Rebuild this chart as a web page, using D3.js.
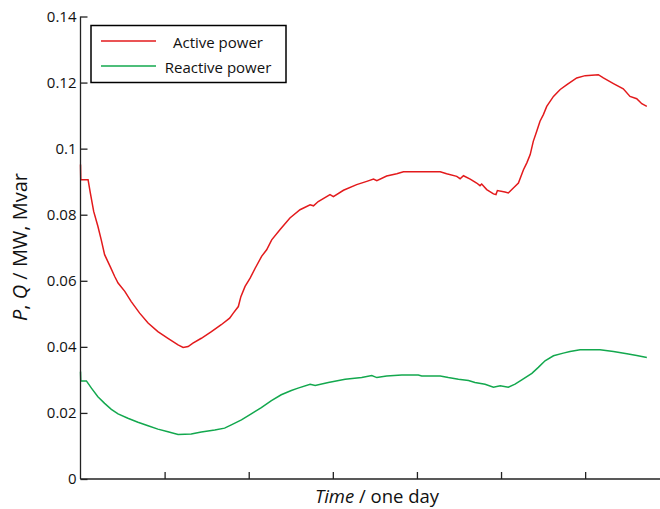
<!DOCTYPE html>
<html>
<head>
<meta charset="utf-8">
<script src="https://cdn.jsdelivr.net/npm/d3@7"></script>
<style>
  body { margin: 0; background: #fff; }
  text { font-family: 'Open Sans', sans-serif; fill: #111; }
</style>
</head>
<body>
<svg id="chart" width="660" height="509"></svg>
<script>
// time in hours (tick every 3 h), value in MW / Mvar
const activeTime = [0, 0.01, 0.27, 0.35, 0.47, 0.62, 0.74, 0.86, 1.06, 1.22, 1.34, 1.58, 1.81, 2.11, 2.41, 2.76, 3.12, 3.48, 3.66, 3.84, 4.01, 4.31, 4.67, 5.02, 5.32, 5.45, 5.63, 5.72, 5.87, 6.05, 6.23, 6.46, 6.64, 6.82, 7.12, 7.47, 7.83, 8.19, 8.31, 8.48, 8.9, 9.02, 9.38, 9.85, 10.21, 10.45, 10.57, 10.92, 11.28, 11.52, 12.83, 13.06, 13.42, 13.54, 13.66, 13.9, 14.13, 14.25, 14.31, 14.49, 14.73, 14.82, 14.87, 15.14, 15.26, 15.44, 15.62, 15.8, 15.92, 16.04, 16.15, 16.27, 16.39, 16.51, 16.63, 16.87, 17.11, 17.35, 17.7, 18.0, 18.47, 18.65, 19.01, 19.36, 19.6, 19.84, 20.02, 20.2]
const activePower = [0.0952, 0.0906, 0.0906, 0.0866, 0.081, 0.0765, 0.0724, 0.0679, 0.0643, 0.0613, 0.0593, 0.0568, 0.0537, 0.0502, 0.0472, 0.0446, 0.0426, 0.0406, 0.0398, 0.0401, 0.0411, 0.0426, 0.0446, 0.0467, 0.0487, 0.0502, 0.0522, 0.0552, 0.0583, 0.0608, 0.0638, 0.0674, 0.0694, 0.0724, 0.0755, 0.079, 0.0815, 0.083, 0.0827, 0.084, 0.0861, 0.0855, 0.0874, 0.0891, 0.0901, 0.0908, 0.0903, 0.0917, 0.0924, 0.093, 0.093, 0.0924, 0.0916, 0.0909, 0.0918, 0.0908, 0.0896, 0.0888, 0.0893, 0.0876, 0.0863, 0.0861, 0.0873, 0.0869, 0.0866, 0.0881, 0.0896, 0.0936, 0.0957, 0.0982, 0.1022, 0.1052, 0.1083, 0.1103, 0.1128, 0.1158, 0.1179, 0.1194, 0.1214, 0.1221, 0.1224, 0.1214, 0.1197, 0.1181, 0.1158, 0.1151, 0.1136, 0.1128]

const reactiveTime = [0, 0.01, 0.21, 0.39, 0.62, 0.86, 1.1, 1.34, 1.69, 2.05, 2.41, 2.76, 3.12, 3.48, 3.95, 4.31, 4.79, 5.14, 5.38, 5.74, 6.09, 6.45, 6.81, 7.16, 7.52, 7.76, 8.19, 8.37, 8.84, 9.44, 10.03, 10.39, 10.57, 10.92, 11.46, 12.05, 12.17, 12.83, 13.12, 13.48, 13.84, 14.07, 14.43, 14.73, 14.97, 15.26, 15.5, 15.74, 16.1, 16.33, 16.57, 16.87, 17.22, 17.46, 17.82, 18.53, 19.01, 19.49, 19.84, 20.2]
const reactivePower = [0.0325, 0.0297, 0.0297, 0.0275, 0.0249, 0.0229, 0.0211, 0.0197, 0.0184, 0.0172, 0.0161, 0.0151, 0.0143, 0.0135, 0.0136, 0.0142, 0.0148, 0.0154, 0.0164, 0.0179, 0.0197, 0.0216, 0.0237, 0.0255, 0.0268, 0.0275, 0.0287, 0.0283, 0.0292, 0.0302, 0.0307, 0.0313, 0.0307, 0.0312, 0.0315, 0.0315, 0.0312, 0.0312, 0.0307, 0.0302, 0.0298, 0.0292, 0.0287, 0.0278, 0.0282, 0.0278, 0.0287, 0.03, 0.032, 0.0338, 0.0358, 0.0373, 0.0381, 0.0386, 0.0391, 0.0391, 0.0386, 0.0379, 0.0374, 0.0368]

const xTicks = [3, 6, 9, 12, 15, 18]
const yTicks = [0, 0.02, 0.04, 0.06, 0.08, 0.1, 0.12, 0.14]
const seriesNames = ['Active power', 'Reactive power']
const seriesColors = ['#e31a1c', '#13a84e']

const svg = d3.select('#chart')
const margin = { left: 80.5, top: 16.5, bottom: 479, right: 660 }

const x = d3.scaleLinear().domain([0, 20.67]).range([margin.left, margin.right])
const y = d3.scaleLinear().domain([0, 0.14]).range([margin.bottom, margin.top])

const line = d3
  .line()
  .x((d) => x(d[0]))
  .y((d) => y(d[1]))

const series = [
  d3.zip(activeTime, activePower),
  d3.zip(reactiveTime, reactivePower),
]

svg
  .selectAll('path.series')
  .data(series)
  .join('path')
  .attr('class', 'series')
  .attr('d', line)
  .attr('fill', 'none')
  .attr('stroke', (_, i) => seriesColors[i])
  .attr('stroke-width', 1.5)

// y axis, ticks inside
const yAxis = svg
  .append('g')
  .attr('transform', `translate(${margin.left},0)`)
  .call(d3.axisRight(y).tickValues(yTicks).tickSize(7).tickFormat(d3.format('')))
yAxis.select('.domain').attr('d', `M0,${margin.top}V${margin.bottom}`)
yAxis
  .selectAll('.tick text')
  .attr('x', -4)
  .attr('text-anchor', 'end')
  .style('font-size', '15px')
  .style('font-family', "'Open Sans', sans-serif")
  .attr('fill', '#111')

// x axis, ticks inside, no labels
const xAxis = svg
  .append('g')
  .attr('transform', `translate(0,${margin.bottom})`)
  .call(d3.axisTop(x).tickValues(xTicks).tickSize(7).tickFormat(''))
xAxis.select('.domain').attr('d', `M${margin.left},0H${margin.right}`)

svg.selectAll('.domain, .tick line').attr('stroke', '#222').attr('stroke-width', 1.3)

// axis titles
const xTitle = svg
  .append('text')
  .attr('x', 377)
  .attr('y', 503)
  .attr('text-anchor', 'middle')
  .style('font-size', '18.5px')
xTitle.append('tspan').style('font-style', 'italic').text('Time')
xTitle.append('tspan').text(' / one day')

const yTitle = svg
  .append('text')
  .attr('transform', 'translate(27,247) rotate(-90)')
  .attr('text-anchor', 'middle')
  .style('font-size', '20px')
yTitle.append('tspan').style('font-style', 'italic').text('P')
yTitle.append('tspan').text(', ')
yTitle.append('tspan').style('font-style', 'italic').text('Q')
yTitle.append('tspan').text(' / MW, Mvar')

// legend
const legend = svg.append('g')
legend
  .append('rect')
  .attr('x', 91)
  .attr('y', 25.5)
  .attr('width', 195)
  .attr('height', 57)
  .attr('fill', '#fff')
  .attr('stroke', '#000')
  .attr('stroke-width', 1.5)

const item = legend
  .selectAll('g.item')
  .data(seriesNames)
  .join('g')
  .attr('class', 'item')
  .attr('transform', (_, i) => `translate(0,${41 + i * 25})`)
item
  .append('line')
  .attr('x1', 101)
  .attr('x2', 156)
  .attr('stroke', (_, i) => seriesColors[i])
  .attr('stroke-width', 1.3)
item
  .append('text')
  .attr('x', 218)
  .attr('y', 7)
  .attr('text-anchor', 'middle')
  .style('font-size', '15px')
  .text((d) => d)
</script>
</body>
</html>
